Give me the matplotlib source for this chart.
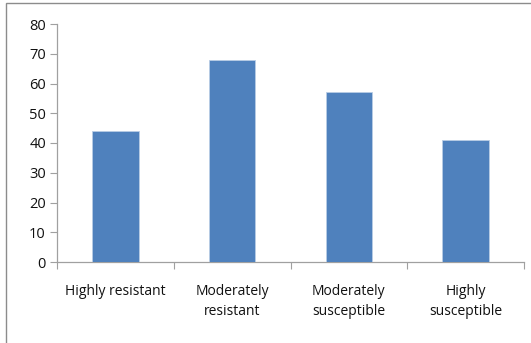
import matplotlib
matplotlib.use("Agg")
import matplotlib.pyplot as plt
from matplotlib.patches import Rectangle

categories = ["Highly resistant", "Moderately\nresistant", "Moderately\nsusceptible", "Highly\nsusceptible"]
values = [44, 68, 57, 41]
yticks = [0, 10, 20, 30, 40, 50, 60, 70, 80]

plt.rcParams['font.family'] = ['Open Sans', 'DejaVu Sans']

W, H = 531, 343
fig = plt.figure(figsize=(W/100, H/100), dpi=100)
ax = fig.add_axes([57/W, 1-262/H, (524-57)/W, (262-24)/H])

x = list(range(len(categories)))
ax.bar(x, values, width=0.4, color="#4F81BD", edgecolor="#B9CDE5", linewidth=0.6, zorder=3)
ax.set_xlim(-0.5, len(categories)-0.5)
ax.set_ylim(0, 80)
ax.set_yticks(yticks)
ax.set_yticklabels([str(t) for t in yticks], fontsize=10.5, color="#111111")

ax.set_xticks([i - 0.5 for i in range(len(categories)+1)], minor=False)
ax.set_xticklabels([])
ax.set_xticks(x, minor=True)
ax.set_xticklabels(categories, minor=True, fontsize=10, color="#111111", linespacing=1.45, va="top")
ax.tick_params(axis='x', which='minor', length=0, pad=16)
ax.tick_params(axis='x', which='major', length=5, color="#A0A0A0", width=0.8)
ax.tick_params(axis='y', length=5, color="#A0A0A0", width=0.8, pad=3)

for s in ["top", "right"]:
    ax.spines[s].set_visible(False)
for s in ["left", "bottom"]:
    ax.spines[s].set_color("#A0A0A0")
    ax.spines[s].set_linewidth(0.9)

fig.patches.append(Rectangle((6/W, -0.1), 1.2, 1 - 3/H + 0.1, transform=fig.transFigure,
                             fill=False, edgecolor="#8C8C8C", linewidth=1.0))

fig.savefig("out.png", dpi=100)
